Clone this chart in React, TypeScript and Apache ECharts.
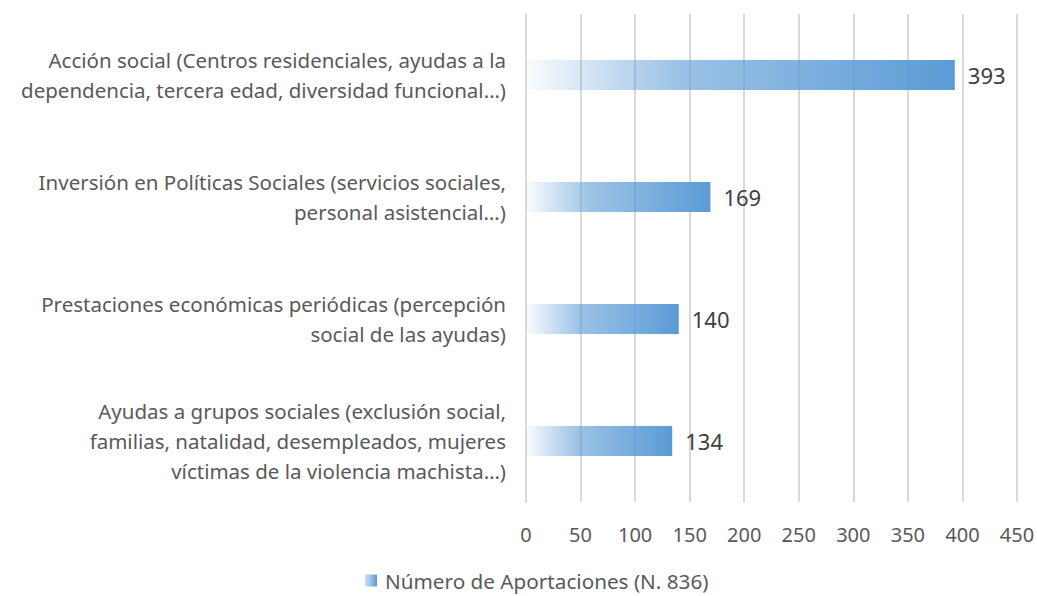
import React, { useEffect, useRef } from "react";
import * as echarts from "echarts";

const categories = [
  "Ayudas a grupos sociales (exclusión social,\nfamilias, natalidad, desempleados, mujeres\nvíctimas de la violencia machista…)",
  "Prestaciones económicas periódicas (percepción\nsocial de las ayudas)",
  "Inversión en Políticas Sociales (servicios sociales,\npersonal asistencial…)",
  "Acción social (Centros residenciales, ayudas a la\ndependencia, tercera edad, diversidad funcional…)",
];
const values = [134, 140, 169, 393];
const seriesName = "Número de Aportaciones (N. 836)";

const FONT = "'Noto Sans', sans-serif";

export default function App() {
  const ref = useRef<HTMLDivElement>(null);
  useEffect(() => {
    document.body.style.margin = "0";
    const chart = echarts.init(ref.current!, null, { renderer: "svg" });
    const grad = new echarts.graphic.LinearGradient(0, 0, 1, 0, [
      { offset: 0, color: "rgba(91,155,213,0.03)" },
      { offset: 0.35, color: "rgba(91,155,213,0.6)" },
      { offset: 1, color: "#5B9BD5" },
    ]);
    chart.setOption({
      animation: false,
      backgroundColor: "#ffffff",
      grid: { left: 526, right: 20, top: 14, bottom: 94, containLabel: false, outerBoundsMode: "none" },
      legend: {
        bottom: 0,
        left: 360,
        itemWidth: 12,
        itemHeight: 12,
        icon: "rect",
        textStyle: { fontFamily: FONT, fontSize: 20.7, color: "#595959", padding: [0, 0, 0, 3] },
        data: [{ name: seriesName, itemStyle: { color: new echarts.graphic.LinearGradient(0, 0, 1, 0, [
          { offset: 0, color: "rgba(91,155,213,0.3)" },
          { offset: 1, color: "#5B9BD5" },
        ]) } }],
      },
      xAxis: {
        type: "value",
        min: 0,
        max: 450,
        interval: 50,
        axisLine: { show: false },
        axisTick: { show: false },
        splitLine: { show: true, lineStyle: { color: "#d9d9d9", width: 2 } },
        axisLabel: { fontFamily: FONT, fontSize: 20, color: "#595959", margin: 22 },
      },
      yAxis: {
        type: "category",
        data: categories,
        axisLine: { show: true, lineStyle: { color: "#d9d9d9", width: 2 } },
        axisTick: { show: false },
        axisLabel: {
          fontFamily: FONT,
          fontSize: 20.5,
          color: "#595959",
          align: "right",
          lineHeight: 30,
          margin: 20,
        },
      },
      series: [
        {
          name: seriesName,
          type: "bar",
          data: values,
          barWidth: 30,
          itemStyle: { color: grad },
          label: {
            show: true,
            position: "right",
            distance: 13,
            fontFamily: FONT,
            fontSize: 22,
            color: "#404040",
          },
        },
      ],
    });
    return () => chart.dispose();
  }, []);
  return <div ref={ref} style={{ width: 1037, height: 596 }} />;
}
